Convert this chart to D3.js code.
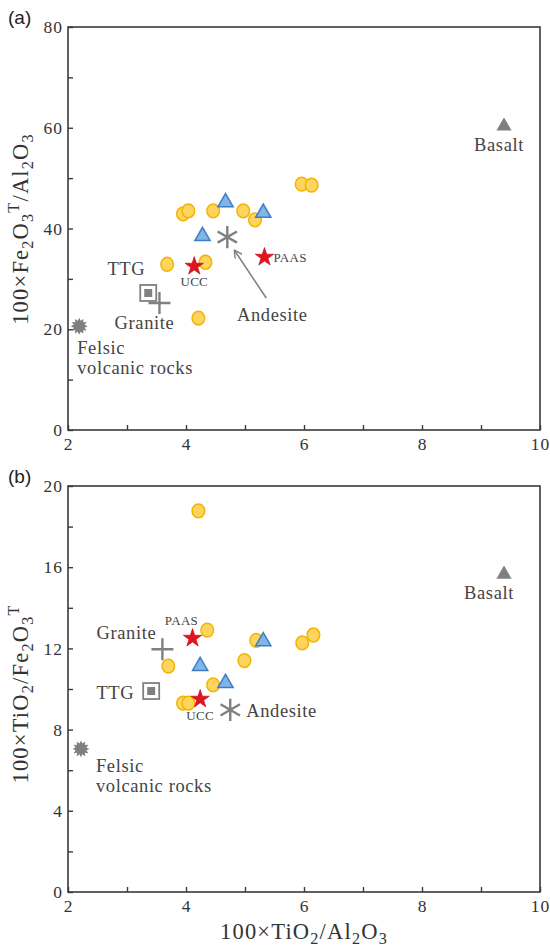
<!DOCTYPE html>
<html>
<head>
<meta charset="utf-8" />
<title>TiO2/Al2O3 diagrams</title>
<script src="https://d3js.org/d3.v7.min.js" charset="utf-8"></script>
<style>
  body { margin: 0; background: #fff; }
</style>
</head>
<body>
<svg id="chart" width="550" height="949"></svg>
<script>
// ---- data ----
var xTicks = [2, 4, 6, 8, 10];
var aTicksY = [0, 20, 40, 60, 80];
var bTicksY = [0, 4, 8, 12, 16, 20];

// panel (a): 100*TiO2/Al2O3 vs 100*Fe2O3T/Al2O3
var aCircles = [[3.95, 42.9], [4.04, 43.5], [4.46, 43.5], [4.97, 43.5], [5.17, 41.7],
                [3.68, 32.9], [4.33, 33.3], [4.21, 22.2], [5.96, 48.8], [6.13, 48.6]];
var aTriangles = [[4.67, 45.4], [5.31, 43.3], [4.28, 38.7]];
var aStars = [{ name: "UCC", x: 4.14, y: 32.5 }, { name: "PAAS", x: 5.33, y: 34.3 }];
var aRefs = [
  { name: "Basalt", x: 9.39, y: 60.5 },
  { name: "Andesite", x: 4.70, y: 38.3 },
  { name: "TTG", x: 3.36, y: 27.2 },
  { name: "Granite", x: 3.55, y: 25.2 },
  { name: "Felsic", x: 2.19, y: 20.6 }
];
var aArrow = [[5.36, 26.2], [4.82, 35.7]];

// panel (b): 100*TiO2/Al2O3 vs 100*TiO2/Fe2O3T
var bCircles = [[4.21, 18.77], [4.36, 12.9], [3.70, 11.13], [4.46, 10.2], [5.19, 12.4],
                [4.99, 11.4], [5.97, 12.27], [6.16, 12.66], [3.95, 9.3], [4.04, 9.3]];
var bTriangles = [[4.24, 11.18], [4.67, 10.34], [5.31, 12.4]];
var bStars = [{ name: "PAAS", x: 4.11, y: 12.5 }, { name: "UCC", x: 4.24, y: 9.5 }];
var bRefs = [
  { name: "Basalt", x: 9.39, y: 15.7 },
  { name: "Andesite", x: 4.75, y: 8.97 },
  { name: "TTG", x: 3.41, y: 9.9 },
  { name: "Granite", x: 3.60, y: 11.96 },
  { name: "Felsic", x: 2.22, y: 7.05 }
];

// axis titles, as [text, position] pieces
var titleA = [["100\u00D7Fe", ""], ["2", "sub"], ["O", ""], ["3", "sub"], ["T", "sup"],
              ["/Al", ""], ["2", "sub"], ["O", ""], ["3", "sub"]];
var titleB = [["100\u00D7TiO", ""], ["2", "sub"], ["/Fe", ""], ["2", "sub"], ["O", ""],
              ["3", "sub"], ["T", "sup"]];
var titleX = [["100\u00D7TiO", ""], ["2", "sub"], ["/Al", ""], ["2", "sub"], ["O", ""], ["3", "sub"]];

// ---- settings ----
var svg = d3.select("#chart");
var left = 68, right = 540;
var grey = "#808080";
var serif = "'Liberation Serif', 'Times New Roman', serif";

// custom symbols
var symAsterisk = {
  draw: function (ctx, size) {
    var r = Math.sqrt(size);
    for (var i = 0; i < 3; i++) {
      var a = Math.PI / 2 + i * Math.PI / 3;
      ctx.moveTo(r * Math.cos(a), r * Math.sin(a));
      ctx.lineTo(-r * Math.cos(a), -r * Math.sin(a));
    }
  }
};
var symPlus = {
  draw: function (ctx, size) {
    var r = Math.sqrt(size);
    ctx.moveTo(-r, 0); ctx.lineTo(r, 0);
    ctx.moveTo(0, -r); ctx.lineTo(0, r);
  }
};
var symBurst = {
  draw: function (ctx, size) {
    var ro = Math.sqrt(size), ri = ro * 0.66, n = 12;
    for (var i = 0; i < n * 2; i++) {
      var r = i % 2 ? ri : ro, a = i * Math.PI / n;
      if (i === 0) ctx.moveTo(r * Math.sin(a), -r * Math.cos(a));
      else ctx.lineTo(r * Math.sin(a), -r * Math.cos(a));
    }
    ctx.closePath();
  }
};

svg.append("defs").append("marker")
  .attr("id", "arrow")
  .attr("viewBox", "0 0 10 10")
  .attr("refX", 9).attr("refY", 5)
  .attr("markerWidth", 9).attr("markerHeight", 9)
  .attr("markerUnits", "userSpaceOnUse")
  .attr("orient", "auto")
  .append("path")
  .attr("d", "M0,0 L9,5 L0,10")
  .attr("fill", "none").attr("stroke", grey).attr("stroke-width", 1.6);

function serifText(sel) {
  return sel.style("font-family", serif).attr("fill", "#333");
}

// writes a formula with sub/superscripts (offsets in px)
function formula(t, parts, fs) {
  var cur = 0, sp = fs * 0.72;
  parts.forEach(function (p) {
    var off = p[1] === "sub" ? fs * 0.2 : p[1] === "sup" ? -fs * 0.42 : 0;
    var ts = t.append("tspan").attr("dy", off - cur).text(p[0]);
    if (p[1]) ts.attr("font-size", sp);
    cur = off;
  });
}

function panel(cfg) {
  var x = d3.scaleLinear().domain([2, 10]).range([left, right]);
  var y = d3.scaleLinear().domain([0, cfg.ymax]).range([cfg.bottom, cfg.top]);
  var g = svg.append("g");

  // frame
  g.append("rect")
    .attr("x", left).attr("y", cfg.top)
    .attr("width", right - left).attr("height", cfg.bottom - cfg.top)
    .attr("fill", "none").attr("stroke", "#3a3a3a").attr("stroke-width", 1.6);

  // axes with inward ticks (minor ticks get empty labels)
  var xAxis = d3.axisBottom(x).tickValues(d3.range(2, 10.01, 1)).tickSize(-5)
    .tickFormat(function (d) { return xTicks.indexOf(d) >= 0 ? d : ""; });
  var yAxis = d3.axisLeft(y).tickValues(d3.range(0, cfg.ymax + 0.01, cfg.ystep / 2)).tickSize(-5)
    .tickFormat(function (d) { return cfg.yTicks.indexOf(d) >= 0 ? d : ""; });

  var gx = g.append("g").attr("transform", "translate(0," + cfg.bottom + ")").call(xAxis);
  var gy = g.append("g").attr("transform", "translate(" + left + ",0)").call(yAxis);
  [gx, gy].forEach(function (ax) {
    ax.select(".domain").remove();
    ax.selectAll(".tick line").attr("stroke", "#3a3a3a").attr("stroke-width", 1.4);
    serifText(ax.selectAll(".tick text")).attr("font-size", 17.5)
      .style("letter-spacing", "1px");
  });
  gx.selectAll(".tick text").attr("dy", "0.95em");
  gy.selectAll(".tick text").attr("x", -5);

  // panel letter
  g.append("text").attr("x", 8).attr("y", cfg.top - 3)
    .attr("font-size", 19).attr("fill", "#222")
    .style("font-family", "'Liberation Sans', Arial, sans-serif")
    .text(cfg.letter);

  // samples
  g.selectAll(".smp").data(cfg.circles).enter().append("ellipse")
    .attr("cx", function (d) { return x(d[0]); })
    .attr("cy", function (d) { return y(d[1]); })
    .attr("rx", 6.3).attr("ry", 6.9)
    .attr("fill", "#fdd45e").attr("stroke", "#f3b400").attr("stroke-width", 1.5);

  g.selectAll(".tri").data(cfg.triangles).enter().append("path")
    .attr("transform", function (d) { return "translate(" + x(d[0]) + "," + (y(d[1]) + 1) + ")"; })
    .attr("d", d3.symbol().type(d3.symbolTriangle).size(100))
    .attr("fill", "#82b4e6").attr("stroke", "#3a7fc6").attr("stroke-width", 1.5);

  g.selectAll(".star").data(cfg.stars).enter().append("path")
    .attr("transform", function (d) { return "translate(" + x(d.x) + "," + y(d.y) + ")"; })
    .attr("d", d3.symbol().type(d3.symbolStar).size(105))
    .attr("fill", "#e3131f").attr("stroke", "#c00010").attr("stroke-width", 0.6);

  // reference rocks
  var refs = {};
  cfg.refs.forEach(function (d) { refs[d.name] = [x(d.x), y(d.y)]; });

  var p = refs.Basalt;
  g.append("path").attr("transform", "translate(" + p[0] + "," + (p[1] + 1) + ")")
    .attr("d", d3.symbol().type(d3.symbolTriangle).size(100)).attr("fill", grey);

  p = refs.Andesite;
  g.append("path").attr("transform", "translate(" + p[0] + "," + p[1] + ")")
    .attr("d", d3.symbol().type(symAsterisk).size(125))
    .attr("fill", "none").attr("stroke", grey).attr("stroke-width", 2.4);

  p = refs.TTG;
  g.append("rect").attr("x", p[0] - 8).attr("y", p[1] - 8).attr("width", 16).attr("height", 16)
    .attr("fill", "#fff").attr("stroke", grey).attr("stroke-width", 1.8);
  g.append("rect").attr("x", p[0] - 4).attr("y", p[1] - 4).attr("width", 8).attr("height", 8)
    .attr("fill", grey);

  p = refs.Granite;
  g.append("path").attr("transform", "translate(" + p[0] + "," + p[1] + ")")
    .attr("d", d3.symbol().type(symPlus).size(121))
    .attr("fill", "none").attr("stroke", grey).attr("stroke-width", 2.4);

  p = refs.Felsic;
  g.append("path").attr("transform", "translate(" + p[0] + "," + p[1] + ")")
    .attr("d", d3.symbol().type(symBurst).size(72)).attr("fill", grey);

  // labels
  cfg.labels.forEach(function (l) {
    var base = l.star ? cfg.stars.filter(function (s) { return s.name === l.star; })[0] : null;
    var px = base ? [x(base.x), y(base.y)] : refs[l.ref];
    serifText(g.append("text")).attr("x", px[0] + l.dx).attr("y", px[1] + l.dy)
      .attr("text-anchor", l.anchor || "start")
      .attr("font-size", l.size || 18.5).attr("fill", "#444")
      .style("letter-spacing", l.size ? "0.3px" : "0.6px")
      .text(l.text);
  });

  if (cfg.arrow) {
    g.append("line")
      .attr("x1", x(cfg.arrow[0][0])).attr("y1", y(cfg.arrow[0][1]))
      .attr("x2", x(cfg.arrow[1][0])).attr("y2", y(cfg.arrow[1][1]))
      .attr("stroke", grey).attr("stroke-width", 1.6).attr("marker-end", "url(#arrow)");
  }
  return { x: x, y: y };
}

panel({
  letter: "(a)", top: 27, bottom: 430, ymax: 80, ystep: 20, yTicks: aTicksY,
  circles: aCircles, triangles: aTriangles, stars: aStars, refs: aRefs, arrow: aArrow,
  labels: [
    { ref: "Basalt", text: "Basalt", dx: -5, dy: 26, anchor: "middle" },
    { ref: "Andesite", text: "Andesite", dx: 45, dy: 84, anchor: "middle" },
    { ref: "TTG", text: "TTG", dx: -3, dy: -18, anchor: "end" },
    { ref: "Granite", text: "Granite", dx: -15, dy: 26, anchor: "middle" },
    { ref: "Felsic", text: "Felsic", dx: -2, dy: 28 },
    { ref: "Felsic", text: "volcanic rocks", dx: -2, dy: 48 },
    { star: "UCC", text: "UCC", dx: 0, dy: 20, anchor: "middle", size: 13 },
    { star: "PAAS", text: "PAAS", dx: 9, dy: 5, size: 13 }
  ]
});

panel({
  letter: "(b)", top: 486, bottom: 892, ymax: 20, ystep: 4, yTicks: bTicksY,
  circles: bCircles, triangles: bTriangles, stars: bStars, refs: bRefs,
  labels: [
    { ref: "Basalt", text: "Basalt", dx: -15, dy: 26, anchor: "middle" },
    { ref: "Andesite", text: "Andesite", dx: 16, dy: 7 },
    { ref: "TTG", text: "TTG", dx: -17, dy: 8, anchor: "end" },
    { ref: "Granite", text: "Granite", dx: -36, dy: -10, anchor: "middle" },
    { ref: "Felsic", text: "Felsic", dx: 15, dy: 23 },
    { ref: "Felsic", text: "volcanic rocks", dx: 15, dy: 43 },
    { star: "PAAS", text: "PAAS", dx: -11, dy: -13, anchor: "middle", size: 13 },
    { star: "UCC", text: "UCC", dx: 0, dy: 21, anchor: "middle", size: 13 }
  ]
});

// axis titles
var fsTitle = 22.5;
function title(sel) {
  return serifText(sel).attr("text-anchor", "middle").attr("font-size", fsTitle)
    .style("letter-spacing", "1.2px");
}
formula(title(svg.append("text").attr("transform", "translate(28,229) rotate(-90)")), titleA, fsTitle);
formula(title(svg.append("text").attr("transform", "translate(28,694) rotate(-90)")), titleB, fsTitle);
formula(title(svg.append("text").attr("x", 304).attr("y", 939)), titleX, fsTitle);
</script>
</body>
</html>
